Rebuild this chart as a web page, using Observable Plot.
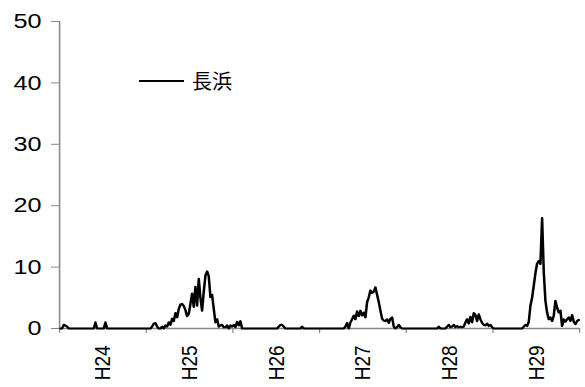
<!DOCTYPE html>
<html>
<head>
<meta charset="utf-8">
<script src="https://cdn.jsdelivr.net/npm/d3@7"></script>
<script src="https://cdn.jsdelivr.net/npm/@observablehq/plot@0.6"></script>
<style>
  html, body { margin: 0; padding: 0; background: #fff; }
  #wrap { position: relative; width: 585px; height: 387px; overflow: hidden; }
  #chart svg { transform: scaleX(1.2); transform-origin: 0 0; display: block; }
  #legend { position: absolute; left: 139px; top: 66px; display: flex; align-items: center;
            font-family: "Noto Sans CJK JP", "Noto Sans", sans-serif; font-size: 20px; color: #000; }
  #legend .sw { width: 45px; height: 0; border-top: 2px solid #000; margin-right: 8px; }
</style>
</head>
<body>
<div id="wrap">
  <div id="chart"></div>
  <div id="legend"><span class="sw"></span><span>長浜</span></div>
</div>
<script>
// Fiscal-year categories (Japanese era years)
const categories = ["H24", "H25", "H26", "H27", "H28", "H29"];
const weeksPerYear = 52;
const yTicks = [0, 10, 20, 30, 40, 50];
const seriesName = "長浜";

// Weekly values for 長浜, one array per year (52 weeks each)
const valuesH24 = [0,0,0.6,0.5,0.3,0,0,0,0,0, 0,0,0,0,0,0,0,0,0,0, 0,1.0,0,0,0,0,0,1.0,0,0, 0,0,0,0,0,0,0,0,0,0, 0,0,0,0,0,0,0,0,0,0, 0,0];
const valuesH25 = [0,0,0,0.3,0.8,0.9,0.3,0,0,0.3, 0,0.5,0.3,1.0,0.6,1.6,1.2,2.5,1.8,3.2, 3.9,4.0,3.7,3.0,2.0,2.4,4.0,5.7,3.5,6.8, 3.7,8.1,5.0,2.9,6.0,8.6,9.3,8.5,5.1,5.5, 3.2,1.0,1.5,0.3,0.5,0.6,0.2,0.2,0.5,0, 0.5,0.3];
const valuesH26 = [0.6,0.2,1.1,0.5,1.2,0,0,0,0,0, 0,0,0,0,0,0,0,0,0,0, 0,0,0,0,0,0,0,0.3,0.6,0.6, 0.3,0,0,0,0,0,0,0,0,0, 0,0.3,0,0,0,0,0,0,0,0, 0,0];
const valuesH27 = [0,0,0,0,0,0,0,0,0,0, 0,0,0,0,0,0.3,0.9,0,1.0,1.5, 2.1,1.5,2.8,2.0,2.9,2.1,2.6,1.8,4.3,5.1, 6.2,5.8,6.0,6.7,5.5,4.3,2.9,1.6,1.3,1.2, 1.5,0.9,1.6,1.8,0.3,0,0.2,0.6,0.2,0, 0,0];
const valuesH28 = [0,0,0,0,0,0,0,0,0,0, 0,0,0,0,0,0,0,0,0,0.3, 0,0,0,0,0.3,0.6,0.2,0.3,0.6,0.2, 0.4,0.2,0.3,0.2,0.3,1.0,1.5,0.8,1.9,1.0, 2.5,2.2,1.2,2.3,1.5,0.9,0.6,0.5,0.8,0.4, 0.6,0.2];
const valuesH29 = [0,0,0,0,0,0,0,0,0,0, 0,0,0,0,0,0,0,0,0.3,0.6, 0.4,1.1,3.7,5.0,7.0,9.0,10.6,11.0,10.5,18.0, 9.2,4.5,2.6,1.5,1.8,1.2,2.1,4.5,3.4,2.6, 2.9,0.4,1.5,1.1,1.5,1.8,1.2,2.2,1.1,0.7, 1.2,1.4];

const values = [valuesH24, valuesH25, valuesH26, valuesH27, valuesH28, valuesH29].flat();
const data = values.map((v, i) => ({ i, v }));
const xDomain = [-0.5, values.length - 0.5];
const boundaries = d3.range(categories.length + 1).map(k => k * weeksPerYear - 0.5);
const centers = categories.map((c, k) => k * weeksPerYear + (weeksPerYear - 1) / 2);

const gray = "#888888";
const scale = 1.2;

const chart = Plot.plot({
  width: 585 / scale,
  height: 387,
  marginLeft: 59 / scale,
  marginRight: 6 / scale,
  marginTop: 21,
  marginBottom: 59,
  style: { fontFamily: "'Liberation Sans', Arial, sans-serif", color: "#000", background: "#fff" },
  x: { domain: xDomain },
  y: { domain: [0, 50] },
  marks: [
    Plot.axisY({ ticks: yTicks, tickSize: 8 / scale, tickPadding: 10 / scale, stroke: gray, fontSize: 21, label: null }),
    Plot.axisX({ ticks: boundaries, tickSize: 5, tickFormat: () => "", stroke: gray, label: null }),
    Plot.axisX({ ticks: centers, tickSize: 0, tickPadding: 17, tickRotate: -90, fontSize: 19,
                 tickFormat: (d) => categories[centers.indexOf(d)], label: null }),
    Plot.ruleX([xDomain[0]], { stroke: gray, strokeWidth: 1.3 }),
    Plot.ruleY([0], { stroke: gray, strokeWidth: 1.3 }),
    Plot.line(data, { x: "i", y: "v", stroke: "#000", strokeWidth: 2.1, strokeLinejoin: "round" })
  ]
});
document.getElementById("chart").appendChild(chart);
</script>
</body>
</html>
